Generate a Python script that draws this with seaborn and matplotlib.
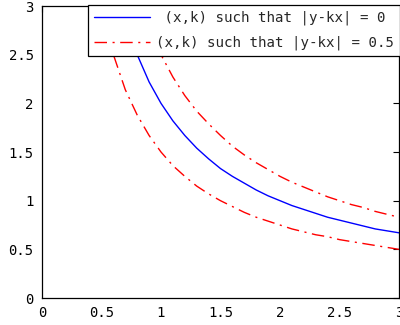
import matplotlib
matplotlib.use("Agg")
import matplotlib.pyplot as plt
import seaborn as sns
import pandas as pd

x = [0.5, 0.6, 0.7, 0.8, 0.9, 1.0, 1.1, 1.2, 1.3, 1.4, 1.5, 1.6, 1.7,
     1.8, 1.9, 2.0, 2.1, 2.2, 2.3, 2.4, 2.5, 2.6, 2.7, 2.8, 2.9, 3.0]
k_zero = [4.0, 3.33, 2.86, 2.5, 2.22, 2.0, 1.82, 1.67, 1.54, 1.43, 1.33, 1.25, 1.18,
          1.11, 1.05, 1.0, 0.95, 0.91, 0.87, 0.83, 0.8, 0.77, 0.74, 0.71, 0.69, 0.67]
k_low = [3.0, 2.5, 2.14, 1.88, 1.67, 1.5, 1.36, 1.25, 1.15, 1.07, 1.0, 0.94, 0.88,
         0.83, 0.79, 0.75, 0.71, 0.68, 0.65, 0.63, 0.6, 0.58, 0.56, 0.54, 0.52, 0.5]
k_high = [5.0, 4.17, 3.57, 3.13, 2.78, 2.5, 2.27, 2.08, 1.92, 1.79, 1.67, 1.56, 1.47,
          1.39, 1.32, 1.25, 1.19, 1.14, 1.09, 1.04, 1.0, 0.96, 0.93, 0.89, 0.86, 0.83]
ticks = [0, 0.5, 1, 1.5, 2, 2.5, 3]
tick_labels = ["0", "0.5", "1", "1.5", "2", "2.5", "3"]
label_zero = " (x,k) such that |y-kx| = 0"
label_half = "(x,k) such that |y-kx| = 0.5"

sns.set_style("white")
plt.rcParams["font.family"] = ["DejaVu Sans Mono", "DejaVu Sans"]

fig = plt.figure(figsize=(4.0, 3.25), dpi=100)
ax = fig.add_axes([0.105, 0.083, 0.8925, 0.8985])

df0 = pd.DataFrame({"x": x, "k": k_zero})
dfl = pd.DataFrame({"x": x, "k": k_low})
dfh = pd.DataFrame({"x": x, "k": k_high})

dashdot = (0, (9, 4, 1.5, 4))
sns.lineplot(data=df0, x="x", y="k", ax=ax, color=(0, 0, 1), lw=1.0,
             sort=False, estimator=None, label=label_zero)
sns.lineplot(data=dfl, x="x", y="k", ax=ax, color=(1, 0, 0), lw=1.0,
             linestyle=dashdot, sort=False, estimator=None, label=label_half)
sns.lineplot(data=dfh, x="x", y="k", ax=ax, color=(1, 0, 0), lw=1.0,
             linestyle=dashdot, sort=False, estimator=None)

ax.set_xlim(0, 3)
ax.set_ylim(0, 3)
ax.set_xticks(ticks)
ax.set_xticklabels(tick_labels)
ax.set_yticks(ticks)
ax.set_yticklabels(tick_labels)
ax.set_xlabel("")
ax.set_ylabel("")
ax.tick_params(direction="in", length=4, width=0.8, labelsize=10, colors="black",
               top=True, right=True, pad=6)
for s in ax.spines.values():
    s.set_color("black")
    s.set_linewidth(0.9)

leg = ax.legend(loc="upper right", bbox_to_anchor=(1.002, 1.003),
                prop={"family": "DejaVu Sans Mono", "size": 10.2},
                frameon=True, fancybox=False, framealpha=1, edgecolor="black",
                handlelength=4.0, borderpad=0.4, labelspacing=0.75,
                handletextpad=0.4, borderaxespad=0.0)
leg.get_frame().set_linewidth(0.9)

fig.savefig("out.png", dpi=100)
